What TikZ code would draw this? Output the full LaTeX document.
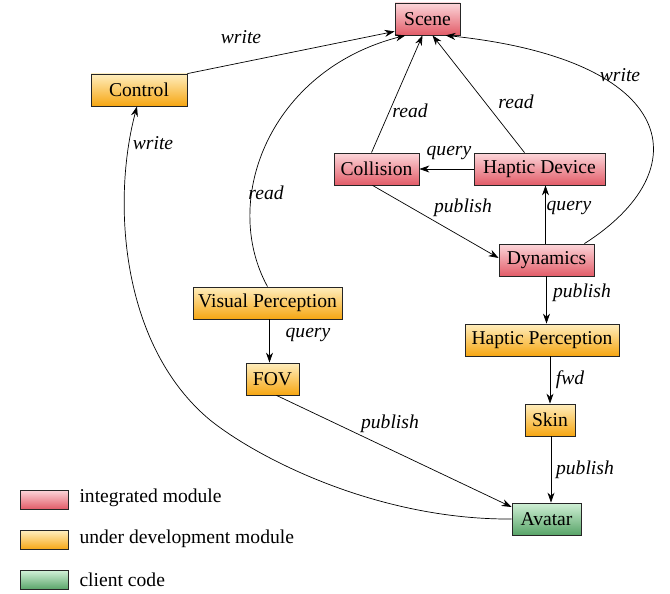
\documentclass[tikz,border=0pt]{standalone}
\usepackage{fontspec}
\setmainfont{Liberation Serif}
\usetikzlibrary{arrows.meta}

\definecolor{redtop}{RGB}{252,214,218}
\definecolor{redbot}{RGB}{226,92,104}
\definecolor{oratop}{RGB}{255,238,190}
\definecolor{orabot}{RGB}{246,166,18}
\definecolor{grntop}{RGB}{208,240,214}
\definecolor{grnbot}{RGB}{88,164,104}

\begin{document}
\begin{tikzpicture}[x=1pt, y=-1pt,
    every node/.style = {font=\fontsize{19.6}{22}\selectfont},
    module/.style = {draw=black!85, line width=0.8pt, minimum height=32pt, inner xsep=3pt, inner ysep=0pt},
    intg/.style = {module, top color=redtop, bottom color=redbot},
    devel/.style = {module, top color=oratop, bottom color=orabot},
    client/.style = {module, top color=grntop, bottom color=grnbot},
    key/.style = {minimum width=48pt, minimum height=19pt},
    lbl/.style = {font=\fontsize{19.6}{22}\selectfont\itshape, inner sep=1pt},
    arr/.style = {-{Stealth[length=10pt, width=7pt]}, line width=0.7pt},
  ]
  \useasboundingbox (0,0) rectangle (670,594);

  % modules
  \node[intg, minimum width=65pt] (scene) at (427.5,19) {Scene};
  \node[devel, minimum width=96pt] (control) at (139,90) {Control};
  \node[intg, minimum width=85pt] (collision) at (376.5,169) {Collision};
  \node[intg, minimum width=131pt] (haptic) at (539.5,169) {Haptic Device};
  \node[intg, minimum width=95pt] (dynamics) at (546.5,260) {Dynamics};
  \node[devel, minimum width=149pt] (visual) at (267.5,303) {Visual Perception};
  \node[devel, minimum width=53pt] (fov) at (272.5,379) {FOV};
  \node[devel, minimum width=154pt] (hperc) at (542,340) {Haptic Perception};
  \node[devel, minimum width=50pt] (skin) at (550,420) {Skin};
  \node[client, minimum width=69pt] (avatar) at (546.5,519) {Avatar};

  % connectors
  \draw[arr] (control.north east) -- ([yshift=4pt]scene.south west);
  \draw[arr] (avatar.west) .. controls (380,520) and (260,460) .. (210,420)
    .. controls (120,345) and (112,200) .. ([xshift=-2pt]control.south);
  \draw[arr] (visual.north) .. controls (220,200) and (270,70) .. ([xshift=-22pt]scene.south);
  \draw[arr] ([xshift=-5pt]collision.north) -- ([xshift=-5pt]scene.south);
  \draw[arr] ([xshift=-15pt]haptic.north) -- ([xshift=5pt]scene.south);
  \draw[arr] ([xshift=-10pt]dynamics.north east) .. controls (700,170) and (680,60) .. ([xshift=18pt]scene.south);
  \draw[arr] (haptic.west) -- (collision.east);
  \draw[arr] ([xshift=-4pt]collision.south) -- ([yshift=2pt]dynamics.west);
  \draw[arr] ([xshift=-1pt]dynamics.north) -- ([xshift=-1pt]dynamics.north |- haptic.south);
  \draw[arr] (dynamics.south) -- (dynamics.south |- hperc.north);
  \draw[arr] ([xshift=2pt]visual.south) -- ([xshift=-3pt]fov.north);
  \draw[arr] (hperc.south -| skin.north) -- (skin.north);
  \draw[arr] ([xshift=1pt]skin.south) -- ([xshift=1pt]skin.south |- avatar.north);
  \draw[arr] ([xshift=4pt]fov.south) -- ([yshift=12pt]avatar.west);

  % connector labels
  \node[lbl] (w1) at (241,37) {write};
  \node[lbl] (w2) at (153,143) {write};
  \node[lbl] (r1) at (266,193) {read};
  \node[lbl] (r2) at (410,111) {read};
  \node[lbl] (r3) at (516,102) {read};
  \node[lbl] (w3) at (620,75) {write};
  \node[lbl] (q1) at (449,153) {query};
  \node[lbl] (p1) at (463,208) {publish};
  \node[lbl] (q2) at (569,208) {query};
  \node[lbl] (p2) at (582,293) {publish};
  \node[lbl] (q3) at (308,335) {query};
  \node[lbl] (f1) at (570,380) {fwd};
  \node[lbl] (p3) at (585,470) {publish};
  \node[lbl] (p4) at (390,424) {publish};

  % legend
  \node[intg, key] (key1) at (44,499.5) {};
  \node[devel, key] (key2) at (44,540) {};
  \node[client, key] (key3) at (44,580) {};
  \node[anchor=west] (txt1) at (76,498) {integrated module};
  \node[anchor=west] (txt2) at (76,539) {under development module};
  \node[anchor=west] (txt3) at (76,580) {client code};
\end{tikzpicture}
\end{document}
